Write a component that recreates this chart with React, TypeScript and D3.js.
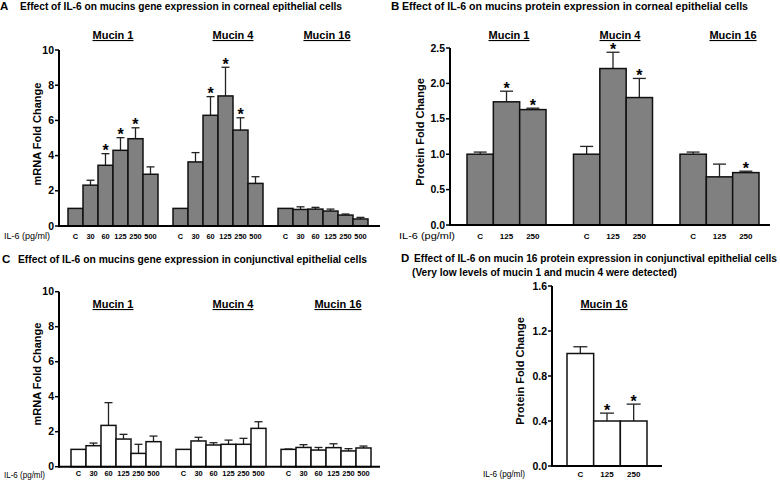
import React from "react";
import * as d3 from "d3";

const mucins = ["Mucin 1", "Mucin 4", "Mucin 16"];
const geneDoses = ["C", "30", "60", "125", "250", "500"];
const proteinDoses = ["C", "125", "250"];

// A: mRNA fold change, corneal cells (mean, upper SEM, star indices)
const cornealGeneMean = [
  [1.0, 2.32, 3.45, 4.3, 4.96, 2.94],
  [1.0, 3.64, 6.29, 7.39, 5.45, 2.42],
  [1.0, 0.94, 0.96, 0.85, 0.62, 0.4],
];
const cornealGeneSem = [
  [0, 0.28, 0.66, 0.72, 0.62, 0.42],
  [0, 0.53, 1.06, 1.63, 0.7, 0.38],
  [0, 0.15, 0.1, 0.11, 0.06, 0.09],
];
const cornealGeneStars = [[2, 3, 4], [2, 3, 4], []];

// B: protein fold change, corneal cells
const cornealProtMean = [
  [1.0, 1.74, 1.63],
  [1.0, 2.21, 1.8],
  [1.0, 0.68, 0.74],
];
const cornealProtSem = [
  [0.03, 0.15, 0.02],
  [0.11, 0.23, 0.27],
  [0.03, 0.18, 0.02],
];
const cornealProtStars = [[1, 2], [1, 2], [2]];

// C: mRNA fold change, conjunctival cells
const conjGeneMean = [
  [0.99, 1.2, 2.36, 1.58, 0.76, 1.43],
  [0.99, 1.47, 1.24, 1.28, 1.28, 2.19],
  [0.99, 1.1, 0.95, 1.09, 0.9, 1.07],
];
const conjGeneSem = [
  [0, 0.15, 1.3, 0.27, 0.52, 0.32],
  [0, 0.21, 0.13, 0.24, 0.34, 0.38],
  [0.02, 0.16, 0.15, 0.22, 0.13, 0.11],
];
const conjGeneStars = [[], [], []];

// D: mucin 16 protein, conjunctival cells
const conjProtGroups = ["Mucin 16"];
const conjProtMean = [[1.0, 0.4, 0.4]];
const conjProtSem = [[0.06, 0.07, 0.15]];
const conjProtStars = [[1, 2]];

const geneTicks = [0, 2, 4, 6, 8, 10];
const protTicks = [0, 0.5, 1.0, 1.5, 2.0, 2.5];
const conjProtTicks = [0, 0.4, 0.8, 1.2, 1.6];

const FONT = "'Liberation Sans', Arial, sans-serif";

type PanelProps = {
  groups: string[];
  doses: string[];
  means: number[][];
  sems: number[][];
  stars: number[][];
  x0: number;
  x1: number;
  padInner: number;
  yBottom: number;
  yTop: number;
  ticks: number[];
  fmt: (v: number) => string;
  axisX: number;
  axisEnd: number;
  fill: string;
  capW: number;
  titleXs: number[];
  titleY: number;
  labelY: number;
  ilX: number;
  ilY: number;
  ilLen: number;
  yLabel: string;
  yLabelX: number;
  yLabelY: number;
  tickSize: number;
  xTickSize: number;
};

const Panel: React.FC<PanelProps> = (p) => {
  const gx = d3.scaleBand<string>().domain(p.groups).range([p.x0, p.x1]).paddingInner(p.padInner);
  const bx = d3.scaleBand<string>().domain(p.doses).range([0, gx.bandwidth()]);
  const yMax = p.ticks[p.ticks.length - 1];
  const y = d3.scaleLinear().domain([0, yMax]).range([p.yBottom, p.yTop]);
  const bw = bx.bandwidth();

  return (
    <g fontFamily={FONT}>
      {/* group titles */}
      {p.groups.map((g, i) => (
        <text
          key={g}
          x={p.titleXs[i]}
          y={p.titleY}
          textAnchor="middle"
          fontSize={11}
          fontWeight="bold"
          style={{ textDecoration: "underline" }}
        >
          {g}
        </text>
      ))}
      {/* bars */}
      {p.groups.map((g, gi) =>
        p.doses.map((d, di) => {
          const m = p.means[gi][di];
          const s = p.sems[gi][di];
          const cx = (gx(g) as number) + (bx(d) as number) + bw / 2;
          const top = y(m + s);
          return (
            <g key={g + d}>
              {s > 0 && (
                <g stroke="#222" strokeWidth={1.3}>
                  <line x1={cx} x2={cx} y1={y(m)} y2={top} />
                  <line x1={cx - p.capW / 2} x2={cx + p.capW / 2} y1={top} y2={top} />
                </g>
              )}
              <rect
                x={(gx(g) as number) + (bx(d) as number)}
                y={y(m)}
                width={bw}
                height={p.yBottom - y(m)}
                fill={p.fill}
                stroke="#111"
                strokeWidth={1.5}
              />
              {p.stars[gi].includes(di) && (
                <text x={cx} y={top + 2.5} textAnchor="middle" fontSize={16} fontWeight="bold">
                  *
                </text>
              )}
              <text
                x={cx}
                y={p.labelY}
                textAnchor="middle"
                fontSize={p.xTickSize}
                fontWeight="bold"
              >
                {d}
              </text>
            </g>
          );
        })
      )}
      {/* axes */}
      <g stroke="#000" strokeWidth={2} fill="none">
        <line x1={p.axisX} x2={p.axisX} y1={p.yBottom + 1} y2={y(yMax)} />
        <line x1={p.axisX} x2={p.axisEnd} y1={p.yBottom} y2={p.yBottom} />
        {p.ticks.map((t) => (
          <line key={t} x1={p.axisX - 4} x2={p.axisX} y1={y(t)} y2={y(t)} strokeWidth={1.5} />
        ))}
      </g>
      {p.ticks.map((t) => (
        <text
          key={"l" + t}
          x={p.axisX - 5}
          y={y(t)}
          dy="0.35em"
          textAnchor="end"
          fontSize={p.tickSize}
          fontWeight="bold"
        >
          {p.fmt(t)}
        </text>
      ))}
      <text x={p.ilX} y={p.ilY} fontSize={9} textLength={p.ilLen} lengthAdjust="spacingAndGlyphs">
        IL-6 (pg/ml)
      </text>
      <text
        transform={`translate(${p.yLabelX},${p.yLabelY}) rotate(-90)`}
        textAnchor="middle"
        fontSize={11}
        fontWeight="bold"
      >
        {p.yLabel}
      </text>
    </g>
  );
};

const Title: React.FC<{ letter: string; x: number; tx: number; y: number; len: number; text: string }> = (t) => (
  <g fontFamily={FONT} fontWeight="bold">
    <text x={t.x} y={t.y} fontSize={11.5}>
      {t.letter}
    </text>
    <text x={t.tx} y={t.y} fontSize={10} textLength={t.len} lengthAdjust="spacingAndGlyphs">
      {t.text}
    </text>
  </g>
);

const intFmt = d3.format("d");
const oneFmt = d3.format(".1f");

export default function App() {
  return (
    <svg width={780} height={482} style={{ position: "absolute", left: 0, top: 0, background: "#fff" }}>
      <Title letter="A" x={0} tx={20} y={10} len={322} text="Effect of IL-6 on mucins gene expression in corneal epithelial cells" />
      <Title letter="B" x={391} tx={402} y={10} len={346} text="Effect of IL-6 on mucins protein expression in corneal epithelial cells" />
      <Title letter="C" x={2} tx={18} y={263} len={349} text="Effect of IL-6 on mucins gene expression in conjunctival epithelial cells" />
      <Title letter="D" x={401} tx={414} y={262} len={363} text="Effect of IL-6 on mucin 16 protein expression in conjunctival epithelial cells" />
      <text x={412} y={276} fontFamily={FONT} fontWeight="bold" fontSize={10} textLength={265} lengthAdjust="spacingAndGlyphs">
        (Very low levels of mucin 1 and mucin 4 were detected)
      </text>

      <Panel
        groups={mucins}
        doses={geneDoses}
        means={cornealGeneMean}
        sems={cornealGeneSem}
        stars={cornealGeneStars}
        x0={68}
        x1={368}
        padInner={0.143}
        yBottom={226}
        yTop={50}
        ticks={geneTicks}
        fmt={intFmt}
        axisX={59}
        axisEnd={380}
        fill="#808080"
        capW={8}
        titleXs={[113, 233, 327]}
        titleY={39}
        labelY={239}
        ilX={4}
        ilY={239}
        ilLen={46}
        yLabel="mRNA Fold Change"
        yLabelX={41}
        yLabelY={134}
        tickSize={10.5}
        xTickSize={7.4}
      />
      <Panel
        groups={mucins}
        doses={proteinDoses}
        means={cornealProtMean}
        sems={cornealProtSem}
        stars={cornealProtStars}
        x0={467}
        x1={759}
        padInner={0.258}
        yBottom={225}
        yTop={48}
        ticks={protTicks}
        fmt={oneFmt}
        axisX={450}
        axisEnd={770}
        fill="#808080"
        capW={13}
        titleXs={[509, 620, 733]}
        titleY={39}
        labelY={239}
        ilX={399}
        ilY={239}
        ilLen={56}
        yLabel="Protein Fold Change"
        yLabelX={424}
        yLabelY={132}
        tickSize={10.5}
        xTickSize={8}
      />
      <Panel
        groups={mucins}
        doses={geneDoses}
        means={conjGeneMean}
        sems={conjGeneSem}
        stars={conjGeneStars}
        x0={71}
        x1={371}
        padInner={0.143}
        yBottom={466.7}
        yTop={291.7}
        ticks={geneTicks}
        fmt={intFmt}
        axisX={59}
        axisEnd={380}
        fill="#fff"
        capW={8}
        titleXs={[113, 233, 338]}
        titleY={308}
        labelY={476}
        ilX={4}
        ilY={478}
        ilLen={41}
        yLabel="mRNA Fold Change"
        yLabelX={41}
        yLabelY={374}
        tickSize={10.5}
        xTickSize={7.4}
      />
      <Panel
        groups={conjProtGroups}
        doses={proteinDoses}
        means={conjProtMean}
        sems={conjProtSem}
        stars={conjProtStars}
        x0={567}
        x1={647}
        padInner={0}
        yBottom={466}
        yTop={286}
        ticks={conjProtTicks}
        fmt={oneFmt}
        axisX={552}
        axisEnd={662}
        fill="#fff"
        capW={14}
        titleXs={[604]}
        titleY={308}
        labelY={477}
        ilX={483}
        ilY={477}
        ilLen={42}
        yLabel="Protein Fold Change"
        yLabelX={524}
        yLabelY={371}
        tickSize={10.5}
        xTickSize={8}
      />
    </svg>
  );
}
